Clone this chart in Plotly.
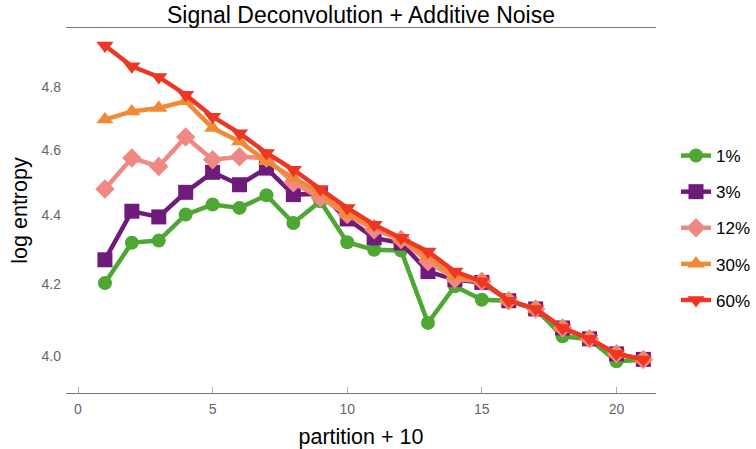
"""Signal Deconvolution + Additive Noise: log entropy per partition, one line per noise level"""
import plotly.graph_objects as go

# partition + 10
partitions = list(range(1, 22))

# values (log-scaled y axis)
noise_1 = [4.202, 4.319, 4.325, 4.402, 4.432, 4.422, 4.460, 4.377, 4.442, 4.320, 4.298,
           4.296, 4.090, 4.193, 4.155, 4.152, 4.129, 4.053, 4.045, 3.985, 3.989]
noise_3 = [4.269, 4.412, 4.395, 4.469, 4.530, 4.492, 4.543, 4.462, 4.465, 4.389, 4.333,
           4.318, 4.235, 4.212, 4.204, 4.152, 4.129, 4.076, 4.046, 4.005, 3.990]
noise_12 = [4.479, 4.574, 4.548, 4.640, 4.569, 4.578, 4.574, 4.498, 4.452, 4.402, 4.357,
            4.328, 4.264, 4.214, 4.207, 4.152, 4.129, 4.076, 4.046, 4.005, 3.990]
noise_30 = [4.695, 4.721, 4.732, 4.754, 4.668, 4.626, 4.564, 4.513, 4.467, 4.402, 4.367,
            4.328, 4.279, 4.221, 4.207, 4.152, 4.129, 4.076, 4.046, 4.005, 3.990]
noise_60 = [4.937, 4.868, 4.833, 4.775, 4.704, 4.652, 4.590, 4.538, 4.479, 4.422, 4.372,
            4.333, 4.293, 4.235, 4.207, 4.152, 4.129, 4.076, 4.046, 4.005, 3.990]

labels = ["1%", "3%", "12%", "30%", "60%"]
y_ticks = [4.0, 4.2, 4.4, 4.6, 4.8]
x_ticks = [0, 5, 10, 15, 20]

series = [noise_1, noise_3, noise_12, noise_30, noise_60]
colors = ["#4ea733", "#6f1b7c", "#f08985", "#f08a34", "#ee3624"]
symbols = ["circle", "square", "diamond", "triangle-up", "triangle-down"]
sizes = [14, 15, 15, 15, 15]

FONT = "Liberation Sans, Arial, Helvetica, sans-serif"

fig = go.Figure()
for name, vals, col, sym, sz in zip(labels, series, colors, symbols, sizes):
    fig.add_trace(go.Scatter(
        x=partitions, y=vals, name=name, mode="lines+markers",
        legendgroup=name,
        line=dict(color=col, width=4.5),
        marker=dict(color=col, symbol=sym, size=sz, line=dict(width=0)),
    ))

fig.update_layout(
    width=756, height=449,
    margin=dict(l=66, r=100, t=28, b=56),
    plot_bgcolor="white", paper_bgcolor="white",
    font=dict(family=FONT, color="#000000"),
    title=dict(text="Signal Deconvolution + Additive Noise", font=dict(size=23),
               x=0.5, xref="paper", y=1 - 15 / 449, yref="container", yanchor="middle",
               automargin=False),
    xaxis=dict(
        range=[-0.446, 21.47], tickvals=x_ticks, showgrid=False, zeroline=False,
        showline=True, mirror=True, linecolor="#777777", linewidth=1,
        ticks="inside", ticklen=6, tickcolor="#aaaaaa", ticklabelstandoff=3,
        tickfont=dict(size=14, color="#666666"), automargin=False,
        title=dict(text="partition + 10", font=dict(size=21.5), standoff=14),
    ),
    yaxis=dict(
        type="log", range=[0.59107, 0.69863], tickvals=y_ticks,
        ticktext=[f"{v:.1f}" for v in y_ticks],
        showgrid=False, zeroline=False, showline=False, ticks="",
        ticklabelstandoff=4,
        tickfont=dict(size=14, color="#666666"), automargin=False,
        title=dict(text="log entropy", font=dict(size=21.5), standoff=8),
    ),
    legend=dict(xref="container", x=676 / 756, xanchor="left",
                yref="paper", y=0.452, yanchor="middle",
                font=dict(size=17), tracegroupgap=11, bgcolor="rgba(0,0,0,0)"),
)

# the page's default body margin would shift the fixed-size figure
fig.write_html("out.html", config={"displayModeBar": False},
               post_script="document.body.style.margin='0';")
